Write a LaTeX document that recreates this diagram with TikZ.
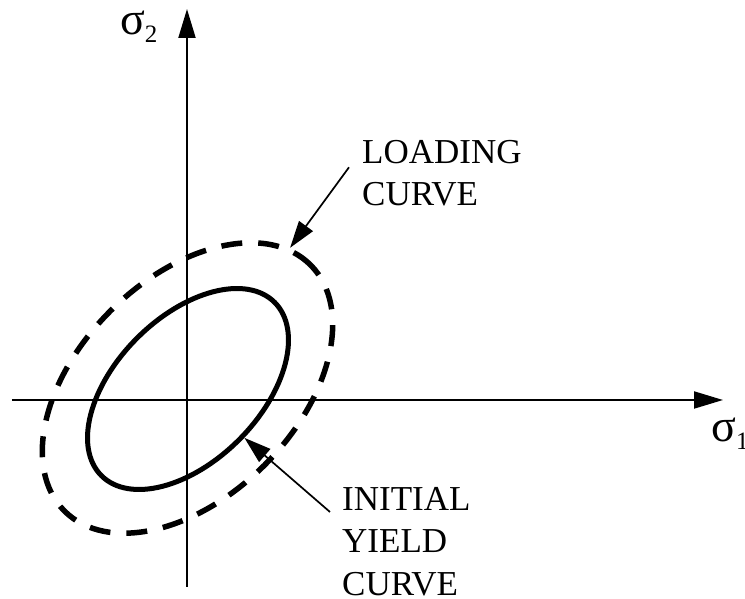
\documentclass[tikz,border=0pt]{standalone}
\usepackage{fontspec}
\setmainfont{Liberation Serif}
\usepackage{tikz}
\usetikzlibrary{arrows.meta, shapes.geometric}
\tikzset{
  axe/.style={-{Triangle[length=29pt, width=17pt]}, line width=2pt},
  courbe/.style={ellipse, draw, line width=5pt, rotate=45, inner sep=0pt},
  courbepointillee/.style={courbe, line width=5.5pt, dash pattern=on 21pt off 16pt},
  fleche/.style={-{Triangle[length=27pt, width=17pt]}, line width=1.7pt},
  etiquette/.style={font=\fontsize{35}{42.5}\selectfont, align=left, inner sep=0pt},
  contrainte/.style={font=\fontsize{46}{50}\selectfont, inner sep=0pt, anchor=base west},
}
\newcommand{\contr}[1]{σ{\fontsize{25}{25}\selectfont\raisebox{-8pt}{#1}}}

\begin{document}
\begin{tikzpicture}[x=1pt, y=1pt]
    \useasboundingbox (-187,-199) rectangle (558,400);

    \node[courbepointillee, minimum width=348pt, minimum height=218pt] (chargement) at (0.5,12) {};
    \node[courbe, minimum width=245pt, minimum height=144pt] (plasticite) at (1,11) {};

    \coordinate (xgauche) at (-175,0);
    \coordinate (xdroite) at (536,0);
    \coordinate (ybas) at (0,-187);
    \coordinate (yhaut) at (0,391);
    \draw[axe] (xgauche) -- (xdroite);
    \draw[axe] (ybas) -- (yhaut);

    \node[contrainte] (sigun) at (524,-42) {\contr{1}};
    \node[contrainte] (sigdeux) at (-67,365) {\contr{2}};

    \node[etiquette, anchor=north west] (etchargement) at (175,260) {LOADING\\CURVE};
    \node[etiquette, anchor=north west] (etplasticite) at (155,-87) {INITIAL\\YIELD\\CURVE};

    \draw[fleche] ([xshift=-13pt, yshift=6pt]etchargement.west) -- (chargement);
    \draw[fleche] ([xshift=-12pt, yshift=-25pt]etplasticite.north west) -- (plasticite);
  \end{tikzpicture}
\end{document}
